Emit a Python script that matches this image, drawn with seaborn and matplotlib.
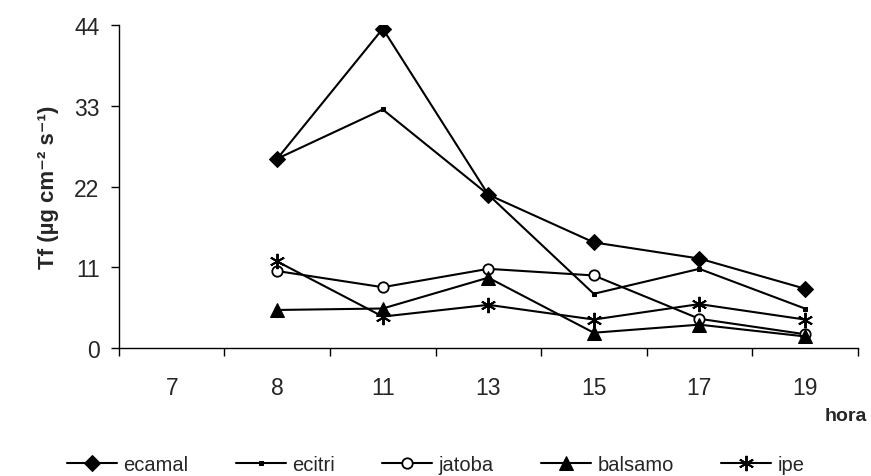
import matplotlib
matplotlib.use("Agg")
import matplotlib.pyplot as plt
import seaborn as sns
import numpy as np
import pandas as pd

hours = ["7", "8", "11", "13", "15", "17", "19"]
data_hours = ["8", "11", "13", "15", "17", "19"]
ecamal = [25.8, 43.5, 20.9, 14.4, 12.2, 8.1]
ecitri = [25.8, 32.5, 20.9, 7.4, 10.8, 5.4]
jatoba = [10.5, 8.3, 10.8, 9.9, 4.0, 1.9]
balsamo = [5.2, 5.4, 9.6, 2.1, 3.2, 1.6]
ipe = [11.8, 4.3, 5.9, 3.9, 6.0, 3.9]
y_ticks = [0, 11, 22, 33, 44]

sns.set_theme(style="ticks")
plt.rcParams["font.family"] = ["Liberation Sans", "DejaVu Sans"]

fig = plt.figure(figsize=(8.71, 4.77), dpi=100)
ax = fig.add_axes([0.1366, 0.268, 0.848, 0.6775])

series = [
    ("ecamal", ecamal, dict(marker="D", markersize=8.5, markerfacecolor="black")),
    ("ecitri", ecitri, dict(marker="s", markersize=2.2, markerfacecolor="black")),
    ("jatoba", jatoba, dict(marker="o", markersize=7.5, markerfacecolor="white", markeredgewidth=1.3)),
    ("balsamo", balsamo, dict(marker="^", markersize=9.5, markerfacecolor="black")),
    ("ipe", ipe, dict(marker=(6, 2, 0), markersize=11, markeredgewidth=1.4)),
]

pos = {h: i for i, h in enumerate(hours)}
for name, vals, kw in series:
    df = pd.DataFrame({"x": [pos[h] for h in data_hours], "y": vals})
    sns.lineplot(data=df, x="x", y="y", ax=ax, color="black", linewidth=1.5,
                 markeredgecolor="black", label=name, **kw)

ax.set_xlim(-0.5, len(hours) - 0.5)
ax.set_ylim(0, 44)
ax.set_yticks(y_ticks)
ax.set_yticklabels([str(t) for t in y_ticks], fontsize=16.5)
ax.set_xticks(range(len(hours)))
ax.set_xticklabels(hours, fontsize=16.5)
ax.set_xticks(np.arange(len(hours) + 1) - 0.5, minor=True)
ax.tick_params(axis="x", which="major", length=0, pad=20)
ax.tick_params(axis="x", which="minor", length=6, width=1, color="black", direction="out")
ax.tick_params(axis="y", length=6, width=1, color="black", pad=8)
for s in ["top", "right"]:
    ax.spines[s].set_visible(False)
for s in ["left", "bottom"]:
    ax.spines[s].set_color("black")
    ax.spines[s].set_linewidth(1)
ax.set_xlabel("")
ax.set_ylabel("Tf (µg cm⁻² s⁻¹)", fontsize=16, fontweight="bold", labelpad=11)

fig.text(0.995, 1 - 417 / 477, "hora", ha="right", va="center", fontsize=14, fontweight="bold")

handles, labels = ax.get_legend_handles_labels()
if ax.legend_:
    ax.legend_.remove()
fig.legend(handles, labels, loc="center", bbox_to_anchor=(0.5, 1 - 466 / 477),
           ncol=5, frameon=False, fontsize=14.5, handlelength=2.5, handletextpad=0.3,
           columnspacing=2.35, borderaxespad=0, borderpad=0)

fig.savefig("out.png", dpi=100)
